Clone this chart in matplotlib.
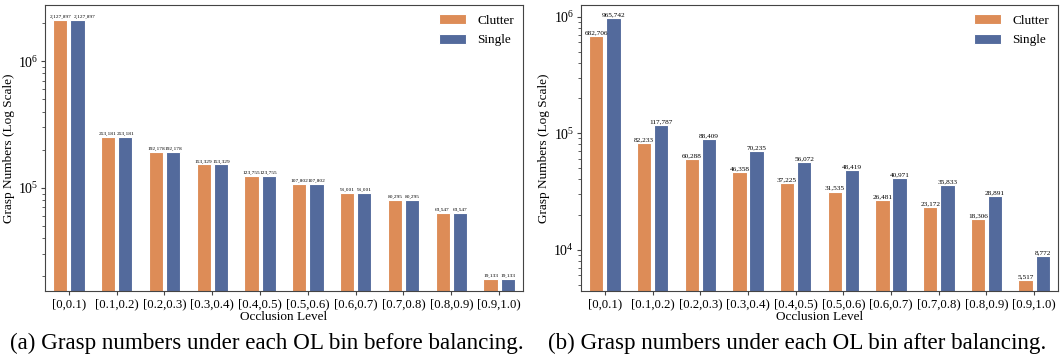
import numpy as np
import matplotlib
matplotlib.use("Agg")
from matplotlib import pyplot as plt

bins = ['[0,0.1)', '[0.1,0.2)', '[0.2,0.3)', '[0.3,0.4)', '[0.4,0.5)',
        '[0.5,0.6)', '[0.6,0.7)', '[0.7,0.8)', '[0.8,0.9)', '[0.9,1.0)']

# before balancing (clutter == single)
before_clutter = [2127897, 253181, 192178, 153329, 123755, 107802, 91001, 80295, 63547, 19133]
before_single = [2127897, 253181, 192178, 153329, 123755, 107802, 91001, 80295, 63547, 19133]

# after balancing
after_clutter = [682706, 82233, 60288, 46358, 37225, 31535, 26481, 23172, 18306, 5517]
after_single = [965742, 117787, 88409, 70235, 56072, 48419, 40971, 35833, 28891, 8772]

c_clutter = '#DD8C57'
c_single = '#536A9C'

plt.rcParams['font.family'] = ['Liberation Serif', 'DejaVu Serif']
plt.rcParams['mathtext.fontset'] = 'stix'


def draw(ax, clutter, single, lblsize):
    x = np.arange(len(bins))
    w = 0.3
    off = 0.18
    ax.bar(x - off, clutter, w, color=c_clutter, edgecolor='white', linewidth=0.8, label='Clutter')
    ax.bar(x + off, single, w, color=c_single, edgecolor='white', linewidth=0.8, label='Single')
    for xi, v in zip(x - off, clutter):
        ax.annotate('{:,}'.format(v), (xi, v), xytext=(0, 0.5), textcoords='offset points',
                    ha='center', va='bottom', fontsize=lblsize)
    for xi, v in zip(x + off, single):
        # the millions labels are too wide, push the second one right a bit
        dx = 5 if v >= 1e6 else 0
        ax.annotate('{:,}'.format(v), (xi, v), xytext=(dx, 0.5), textcoords='offset points',
                    ha='center', va='bottom', fontsize=lblsize)
    ax.set_yscale('log')
    ax.set_ylim(min(min(clutter), min(single)) * 0.8, max(max(clutter), max(single)) * 1.3)
    ax.set_xlim(-0.5, len(bins) - 0.5)
    ax.set_xticks(x)
    ax.set_xticklabels(bins, fontsize=9.2)
    ax.tick_params(axis='y', labelsize=10)
    ax.tick_params(axis='both', which='both', color='#444444', length=3, pad=2)
    ax.tick_params(axis='y', which='minor', length=2)
    ax.set_xlabel('Occlusion Level', fontsize=9.5, labelpad=1)
    ax.set_ylabel('Grasp Numbers (Log Scale)', fontsize=9.5, labelpad=2)
    for s in ax.spines.values():
        s.set_color('#444444')
    ax.legend(loc='upper right', frameon=False, fontsize=9.5, handlelength=2.1,
              handleheight=0.8, borderaxespad=0.3)


fig = plt.figure(figsize=(10.63, 3.6), dpi=100)
ax1 = fig.add_axes([0.0423, 0.1917, 0.4497, 0.794])
ax2 = fig.add_axes([0.5466, 0.1917, 0.4487, 0.794])

draw(ax1, before_clutter, before_single, 3.9)
draw(ax2, after_clutter, after_single, 5.2)

fig.text(0.251, 0.047, '(a) Grasp numbers under each OL bin before balancing.', ha='center', va='center', fontsize=16.6)
fig.text(0.75, 0.047, '(b) Grasp numbers under each OL bin after balancing.', ha='center', va='center', fontsize=16.6)

plt.savefig('out.png', dpi=100)
